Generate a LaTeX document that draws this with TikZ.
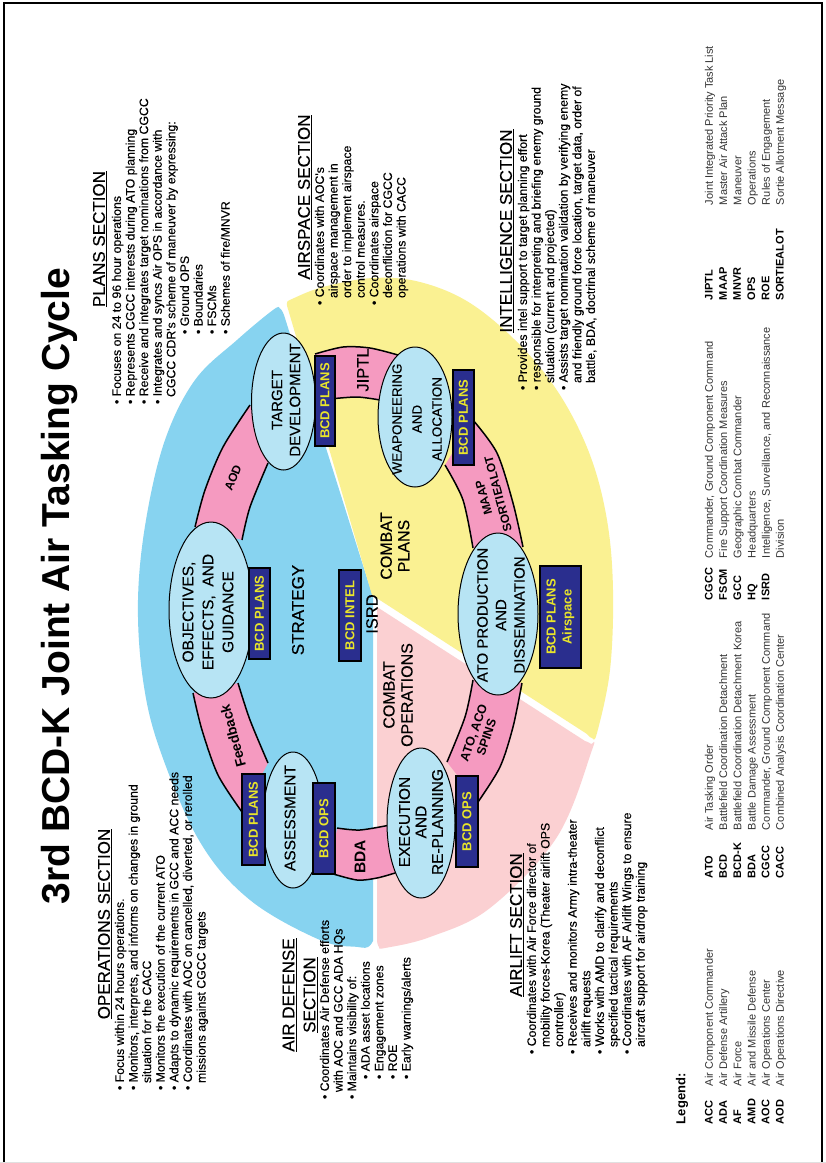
\documentclass[tikz,border=0pt]{standalone}
\usepackage{fontspec}
\setmainfont{Liberation Sans}
\newfontfamily\darkfont{Liberation Sans}[FakeBold=0.25]
\usetikzlibrary{shapes.geometric}
\definecolor{skyfill}{HTML}{87D3F0}
\definecolor{sunfill}{HTML}{FAF192}
\definecolor{rosefill}{HTML}{FBD0D2}
\definecolor{bandfill}{HTML}{F59AC0}
\definecolor{ellfill}{HTML}{B7E4F4}
\definecolor{navyfill}{HTML}{2A2E8E}
\definecolor{boxtext}{HTML}{E9E52A}
\definecolor{legtext}{HTML}{333333}
\newcommand{\fs}[2]{\fontsize{#1}{#2}\selectfont}
\newcommand{\ind}{\hspace*{7pt}}
\tikzset{
  x=1pt,y=-1pt,
  rot/.style={rotate=90,inner sep=0pt,outer sep=0pt},
  heading/.style={rot,align=center,font=\darkfont\fs{17}{21}},
  bodytext/.style={rot,anchor=north west,align=left,font=\darkfont\fs{12.3}{13.6}},
  legkey/.style={rot,anchor=north west,align=left,font=\fs{11}{14.2}\bfseries},
  legval/.style={rot,anchor=north west,align=left,text=legtext,font=\fs{11}{14.2}},
  stage/.style={ellipse,draw=black,line width=1pt,fill=ellfill,inner sep=0pt},
  stagetext/.style={rot,align=center,font=\darkfont\fs{15}{18}},
  unit/.style={rot,draw=black,line width=2pt,fill=navyfill,text=boxtext,align=center,font=\fs{13}{16}\bfseries},
  edge/.style={draw=black,line width=1.5pt},
  flowlabel/.style={inner sep=0pt,align=center,font=\fs{10.5}{12.5}\bfseries},
  zone/.style={rot,align=center,font=\darkfont\fs{16}{17.5}}
}
\begin{document}
\begin{tikzpicture}
\useasboundingbox (0,0) rectangle (826,1163);
\fill[white] (0,0) rectangle (826,1163);
\draw[black,line width=1.5pt] (4,1162) -- (4,3) -- (822,3) -- (822,1162);
\draw[black!12,line width=1pt] (0,1162.5) -- (826,1162.5);
% sectors
\fill[skyfill] plot[smooth,tension=0.6] coordinates {(284,315) (280,308.5) (273,310) (237,340) (195,380) (165,440) (146,520) (138,600) (143,680) (160,750) (200,842) (250,900) (320,940) (358,947) (368,947) (373,941)} -- (373,597) -- cycle;
\fill[sunfill] plot[smooth,tension=0.6] coordinates {(288,309) (287,303) (292,299) (323,287) (373,278) (420,282) (470,303) (520,345) (560,395) (590,455) (607,520) (613,590) (610,670) (597,733) (592,738) (587,734)} -- (372,595) -- cycle;
\fill[rosefill] plot[smooth,tension=0.6] coordinates {(585,741) (591,744) (592,750) (557,837) (490,908) (430,937) (385,948) (379,947) (377,941)} -- (377,607) -- cycle;
% bands
\fill[bandfill] plot[smooth] coordinates {(195,527) (205,490) (223,447) (250,405)} -- plot[smooth] coordinates {(268,463) (250,507) (242,540)} -- cycle;
\draw[edge] plot[smooth] coordinates {(195,527) (205,490) (223,447) (250,405)};
\draw[edge] plot[smooth] coordinates {(268,463) (250,507) (242,540)};
\fill[bandfill] plot[smooth] coordinates {(193,693) (202,730) (218,775) (242,812)} -- plot[smooth] coordinates {(268,763) (250,720) (238,683)} -- cycle;
\draw[edge] plot[smooth] coordinates {(193,693) (202,730) (218,775) (242,812)};
\draw[edge] plot[smooth] coordinates {(268,763) (250,720) (238,683)};
\fill[bandfill] plot[smooth] coordinates {(337,828) (360,830) (390,825)} -- plot[smooth] coordinates {(395,873) (377,878) (357,880) (330,873)} -- cycle;
\draw[edge] plot[smooth] coordinates {(337,828) (360,830) (390,825)};
\draw[edge] plot[smooth] coordinates {(395,873) (377,878) (357,880) (330,873)};
\fill[bandfill] plot[smooth] coordinates {(522,683) (513,727) (500,767) (478,802)} -- plot[smooth] coordinates {(447,762) (465,717) (473,680)} -- cycle;
\draw[edge] plot[smooth] coordinates {(522,683) (513,727) (500,767) (478,802)};
\draw[edge] plot[smooth] coordinates {(447,762) (465,717) (473,680)};
\fill[bandfill] plot[smooth] coordinates {(473,420) (497,453) (513,503) (523,547)} -- plot[smooth] coordinates {(473,548) (463,500) (445,465)} -- cycle;
\draw[edge] plot[smooth] coordinates {(473,420) (497,453) (513,503) (523,547)};
\draw[edge] plot[smooth] coordinates {(473,548) (463,500) (445,465)};
\fill[bandfill] plot[smooth] coordinates {(315,354) (343,347) (370,348) (398,355)} -- plot[smooth] coordinates {(380,400) (357,397) (330,399)} -- cycle;
\draw[edge] plot[smooth] coordinates {(315,354) (343,347) (370,348) (398,355)};
\draw[edge] plot[smooth] coordinates {(380,400) (357,397) (330,399)};
% stages
\node[stage,minimum width=64pt,minimum height=137pt] (tgt) at (283.5,401.5) {};
\node[stage,minimum width=84pt,minimum height=176pt] (obj) at (211,610) {};
\node[stage,minimum width=60pt,minimum height=136pt] (ass) at (293,820) {};
\node[stage,minimum width=68pt,minimum height=150pt] (exe) at (421,823) {};
\node[stage,minimum width=80pt,minimum height=162pt] (atp) at (498,614) {};
\node[stage,minimum width=74pt,minimum height=140pt] (wea) at (415,417) {};
\node[stagetext] (tgtx) at (286,400) {TARGET\\DEVELOPMENT};
\node[stagetext,font=\darkfont\fs{15.5}{20}] (objx) at (208,612) {OBJECTIVES,\\EFFECTS,~ AND\\GUIDANCE};
\node[stagetext,font=\darkfont\fs{15.5}{18}] (assx) at (290,818) {ASSESSMENT};
\node[stagetext,font=\darkfont\fs{15.5}{16.5}] (exex) at (421,822) {EXECUTION\\AND\\RE-PLANNING};
\node[stagetext,font=\darkfont\fs{15}{18.5}] (atpx) at (501,615) {ATO PRODUCTION\\AND\\DISSEMINATION};
\node[stagetext,font=\darkfont\fs{13.4}{20}] (weax) at (417,419) {WEAPONEERING\\AND\\ALLOCATION};
% units
\node[unit,minimum width=90pt,minimum height=20pt] (u1) at (325,401) {BCD PLANS};
\node[unit,minimum width=91pt,minimum height=21pt] (u2) at (259.5,613.5) {BCD PLANS};
\node[unit,minimum width=91pt,minimum height=23pt] (u3) at (253.5,819.5) {BCD PLANS};
\node[unit,minimum width=91pt,minimum height=22pt] (u4) at (324,828.5) {BCD OPS};
\node[unit,minimum width=91pt,minimum height=22pt] (u5) at (350,615.5) {BCD INTEL};
\node[unit,minimum width=95pt,minimum height=21pt] (u6) at (463.5,417.5) {BCD PLANS};
\node[unit,minimum width=102pt,minimum height=41pt] (u7) at (560.5,617) {BCD PLANS\\Airspace};
\node[unit,minimum width=91pt,minimum height=22pt] (u8) at (467,821.5) {BCD OPS};
% band labels
\node[flowlabel,rotate=68,font=\fs{12}{14}\bfseries] (l1) at (233,478) {AOD};
\node[flowlabel,rotate=105,font=\fs{14}{16}\bfseries] (l2) at (233,736) {Feedback};
\node[flowlabel,rotate=90,font=\fs{15.5}{17}\bfseries] (l3) at (360,857) {BDA};
\node[flowlabel,rotate=90,font=\darkfont\fs{16.5}{18}] (l4) at (363,370) {JIPTL};
\node[flowlabel,rotate=105,font=\fs{12}{15}\bfseries] (l5) at (491,496) {MAAP\\SORTIEALOT};
\node[flowlabel,rotate=71,font=\fs{12.5}{13.5}\bfseries] (l6) at (480,735) {ATO, ACO\\SPINS};
% zones
\node[zone,font=\darkfont\fs{17}{20}] (z1) at (298,610) {STRATEGY};
\node[zone] (z2) at (395,546) {COMBAT\\PLANS};
\node[zone,font=\darkfont\fs{16}{18}] (z3) at (398,695) {COMBAT\\OPERATIONS};
\node[zone,font=\darkfont\fs{16.5}{18}] (z4) at (372,614) {ISRD};
% title
\node[rot,font=\fs{39}{44}\bfseries] (title) at (60,586) {3rd BCD-K Joint Air Tasking Cycle};
% sections
\node[heading] (h1) at (100,239) {\underline{PLANS SECTION}};
\node[bodytext] (b1) at (112,404) {• Focuses on 24 to 96 hour operations\\
• Represents CGCC interests during ATO planning\\
• Receive and integrates target nominations from CGCC\\
• Integrates and syncs Air OPS in accordance with\\
\ind CGCC CDR's scheme of maneuver by expressing:\\
\hspace*{70pt}• Ground OPS\\
\hspace*{70pt}• Boundaries\\
\hspace*{70pt}• FSCMs\\
\hspace*{70pt}• Schemes of fire/MNVR};
\node[heading] (h2) at (305,197) {\underline{AIRSPACE SECTION}};
\node[bodytext] (b2) at (315,305) {• Coordinates with AOC's\\
\ind airspace management in\\
\ind order to implement airspace\\
\ind control measures.\\
• Coordinates airspace\\
\ind deconfliction for CGCC\\
\ind operations with CACC};
\node[heading] (h3) at (507,231) {\underline{INTELLIGENCE SECTION}};
\node[bodytext] (b3) at (518,390) {• Provides intel support to target planning effort\\
• responsible for interpreting and briefing enemy ground\\
\ind situation (current and projected)\\
• Assists target nomination validation by verifying enemy\\
\ind and friendly ground force location, target data, order of\\
\ind battle, BDA, doctrinal scheme of maneuver};
\node[heading] (h4) at (105,924) {\underline{OPERATIONS SECTION}};
\node[bodytext] (b4) at (115,1090) {• Focus within 24 hours operations.\\
• Monitors, interprets, and informs on changes in ground\\
\ind situation for the CACC\\
• Monitors the execution of the current ATO\\
• Adapts to dynamic requirements in GCC and ACC needs\\
• Coordinates with AOC on cancelled, diverted, or rerolled\\
\ind missions against CGCC targets};
\node[heading] (h5) at (300,995) {\underline{AIR DEFENSE}\\\underline{SECTION}};
\node[bodytext] (b5) at (320,1099) {• Coordinates Air Defense efforts\\
\ind with AOC and GCC ADA HQs\\
• Maintains visibility of:\\
\hspace*{20pt}• ADA asset locations\\
\hspace*{20pt}• Engagement zones\\
\hspace*{20pt}• ROE\\
\hspace*{20pt}• Early warnings/alerts};
\node[heading] (h6) at (517,925) {\underline{AIRLIFT SECTION}};
\node[bodytext] (b6) at (527,1054) {• Coordinates with Air Force director of\\
\ind mobility forces-Korea (Theater airlift OPS\\
\ind controller)\\
• Receives and monitors Army intra-theater\\
\ind airlift requests\\
• Works with AMD to clarify and deconflict\\
\ind specified tactical requirements\\
• Coordinates with AF Airlift Wings to ensure\\
\ind aircraft support for airdrop training};
% legend
\node[rot,anchor=north west,font=\fs{13}{15}\bfseries] (lg) at (676,1124) {Legend:};
\node[legkey] (k1) at (705,1124) {ACC\\ADA\\AF\\AMD\\AOC\\AOD};
\node[legval] (v1) at (705,1086) {Air Component Commander\\Air Defense Artillery\\Air Force\\Air and Missile Defense\\Air Operations Center\\Air Operations Directive};
\node[legkey] (k2) at (705,878) {ATO\\BCD\\BCD-K\\BDA\\CGCC\\CACC};
\node[legval] (v2) at (705,830) {Air Tasking Order\\Battlefield Coordination Detachment\\Battlefield Coordination Detachment Korea\\Battle Damage Assessment\\Commander, Ground Component Command\\Combined Analysis Coordination Center};
\node[legkey] (k3) at (705,600) {CGCC\\FSCM\\GCC\\HQ\\ISRD};
\node[legval] (v3) at (705,558) {Commander, Ground Component Command\\Fire Support Coordination Measures\\Geographic Combat Commander\\Headquarters\\Intelligence, Surveillance, and Reconnaissance\\Division};
\node[legkey] (k4) at (705,300) {JIPTL\\MAAP\\MNVR\\OPS\\ROE\\SORTIEALOT};
\node[legval] (v4) at (705,205) {Joint Integrated Priority Task List\\Master Air Attack Plan\\Maneuver\\Operations\\Rules of Engagement\\Sortie Allotment Message};
\end{tikzpicture}
\end{document}
